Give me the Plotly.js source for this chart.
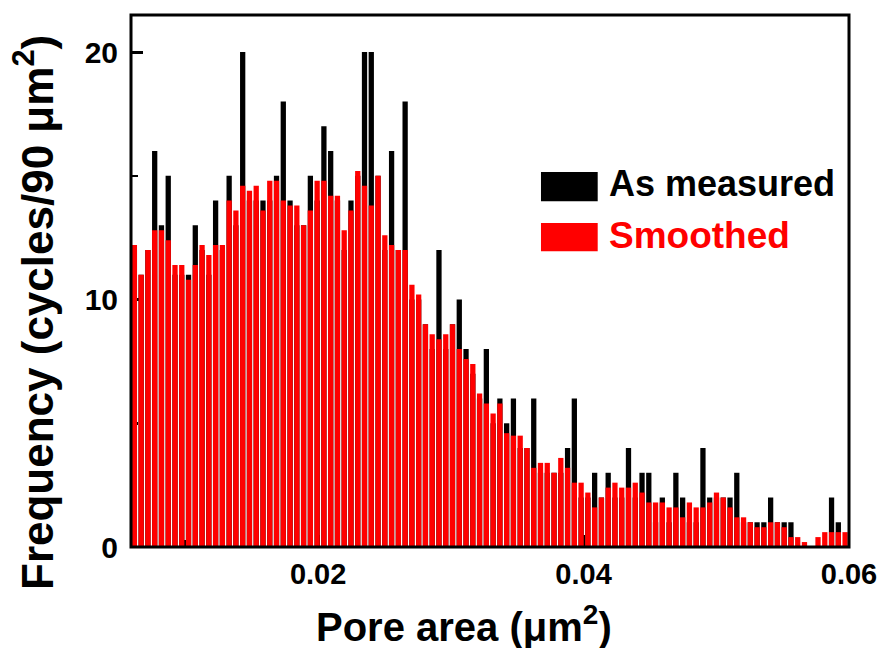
<!DOCTYPE html>
<html>
<head>
<meta charset="utf-8">
<script src="https://cdn.plot.ly/plotly-3.0.1.min.js"></script>
<style>html,body{margin:0;padding:0;background:#fff;}#chart{width:884px;height:648px;}</style>
</head>
<body>
<div id="chart"></div>
<script>
// Histogram bins (pore area, µm²)
const binStart = 0.0059;
const binWidth = 0.00051;

// As measured counts per bin
const measured = [
  12, 11, 12, 16, 13, 15, 11, 11, 11, 13,
  12, 11, 14, 12, 15, 13, 20, 14, 14, 14,
  14, 15, 18, 14, 13, 13, 15, 14, 17, 16,
  14, 12, 14, 15, 20, 20, 15, 12, 16, 12,
  18, 10, 10, 9, 8, 12, 8, 9, 10, 8,
  7, 6, 8, 5, 6, 5, 6, 4, 4, 6,
  3, 3, 3, 3, 4, 6, 2, 2, 3, 2,
  3, 2, 2, 4, 2, 3, 3, 1, 2, 1,
  3, 2, 1, 1, 4, 2, 2, 2, 2, 3,
  1, 1, 1, 1, 2, 1, 1, 1, 0, 0,
  0, 0, 0, 2, 1, 0
];

// Smoothed counts per bin
const smoothed = [
  12.2, 11.0, 12.0, 12.8, 12.8, 12.4, 11.4, 11.4, 10.8, 11.4,
  12.2, 11.8, 12.2, 12.2, 14.0, 13.6, 14.6, 14.4, 14.6, 13.6,
  14.8, 14.8, 14.0, 13.8, 13.8, 13.0, 13.6, 14.8, 14.8, 14.2,
  14.2, 12.8, 13.6, 15.2, 14.6, 13.8, 15.0, 12.6, 12.2, 12.0,
  12.0, 10.6, 10.2, 9.0, 8.6, 8.4, 8.6, 9.0, 8.0, 7.6,
  7.4, 6.2, 5.8, 5.4, 5.8, 4.6, 4.5, 4.5, 4.0, 3.2,
  3.4, 3.4, 3.0, 3.6, 3.2, 2.6, 2.6, 2.2, 1.6, 2.0,
  2.4, 2.6, 2.4, 2.4, 2.6, 2.2, 1.8, 1.8, 1.8, 1.6,
  1.6, 1.2, 1.8, 1.6, 1.6, 1.8, 2.2, 2.0, 1.6, 1.2,
  1.2, 1.0, 0.8, 0.8, 1.0, 1.0, 0.8, 0.4, 0.4, 0.2,
  0.0, 0.4, 0.6, 0.6, 0.6, 0.6
];

const seriesNames = ['As measured', 'Smoothed'];
const xTitle = 'Pore area (μm<sup>2</sup>)';
const yTitle = 'Frequency (cycles/90 μm<sup>2</sup>)';
const xTickVals = [0.02, 0.04, 0.06];
const xTickText = ['0.02', '0.04', '0.06'];
const yTickVals = [0, 10, 20];
const yTickText = ['0', '10', '20'];

const binCenters = measured.map((_, i) => binStart + binWidth * (i + 0.5));

const FONT = 'Liberation Sans, Arial, sans-serif';

const traces = [
  {type: 'bar', name: seriesNames[0], x: binCenters, y: measured,
   marker: {color: '#000000', line: {width: 0}}, showlegend: false},
  {type: 'bar', name: seriesNames[1], x: binCenters, y: smoothed,
   marker: {color: '#ff0000', line: {width: 0}}, showlegend: false}
];

const layout = {
  width: 884, height: 648,
  margin: {l: 131, r: 35, t: 15, b: 101},
  paper_bgcolor: '#ffffff', plot_bgcolor: '#ffffff',
  barmode: 'overlay', bargap: 0.22,
  font: {family: FONT, color: '#000', weight: 'bold'},
  xaxis: {
    range: [binStart, 0.06], tickvals: xTickVals, ticktext: xTickText,
    ticks: 'inside', ticklen: 12, tickwidth: 3, tickcolor: '#000',
    minor: {dtick: 0.01, tick0: 0, ticks: 'inside', ticklen: 7, tickwidth: 2.5, tickcolor: '#000'},
    showline: false, showgrid: false, zeroline: false, layer: 'below traces',
    tickfont: {family: FONT, size: 29, weight: 'bold', color: '#000'},
    ticklabelstandoff: 7
  },
  yaxis: {
    range: [0, 21.5], tickvals: yTickVals, ticktext: yTickText,
    ticks: 'inside', ticklen: 12, tickwidth: 3, tickcolor: '#000',
    minor: {dtick: 5, tick0: 0, ticks: 'inside', ticklen: 7, tickwidth: 2.5, tickcolor: '#000'},
    showline: false, showgrid: false, zeroline: false, layer: 'below traces',
    tickfont: {family: FONT, size: 30, weight: 'bold', color: '#000'},
    ticklabelstandoff: 12
  },
  shapes: [
    {type: 'rect', xref: 'paper', yref: 'paper', x0: 0, x1: 1, y0: 0, y1: 1,
     line: {color: '#000', width: 3}, layer: 'above'},
    {type: 'rect', xref: 'paper', yref: 'paper', x0: 0.571, x1: 0.650, y0: 0.650, y1: 0.705,
     fillcolor: '#000000', line: {width: 0}},
    {type: 'rect', xref: 'paper', yref: 'paper', x0: 0.571, x1: 0.650, y0: 0.556, y1: 0.609,
     fillcolor: '#ff0000', line: {width: 0}}
  ],
  annotations: [
    {xref: 'paper', yref: 'paper', x: 0.663, y: 0.684, xanchor: 'left', yanchor: 'middle',
     text: seriesNames[0], showarrow: false, font: {family: FONT, size: 36, weight: 'bold', color: '#000'}},
    {xref: 'paper', yref: 'paper', x: 0.663, y: 0.586, xanchor: 'left', yanchor: 'middle',
     text: seriesNames[1], showarrow: false, font: {family: FONT, size: 37, weight: 'bold', color: '#ff0000'}},
    {xref: 'paper', yref: 'paper', x: 0.464, y: -0.145, xanchor: 'center', yanchor: 'middle',
     text: xTitle, showarrow: false, font: {family: FONT, size: 40, weight: 'bold', color: '#000'}},
    {xref: 'paper', yref: 'paper', x: -0.135, y: 0.44, xanchor: 'center', yanchor: 'middle',
     textangle: -90, text: yTitle, showarrow: false, font: {family: FONT, size: 44, weight: 'bold', color: '#000'}}
  ]
};

Plotly.newPlot('chart', traces, layout, {displayModeBar: false, staticPlot: true});
</script>
</body>
</html>
